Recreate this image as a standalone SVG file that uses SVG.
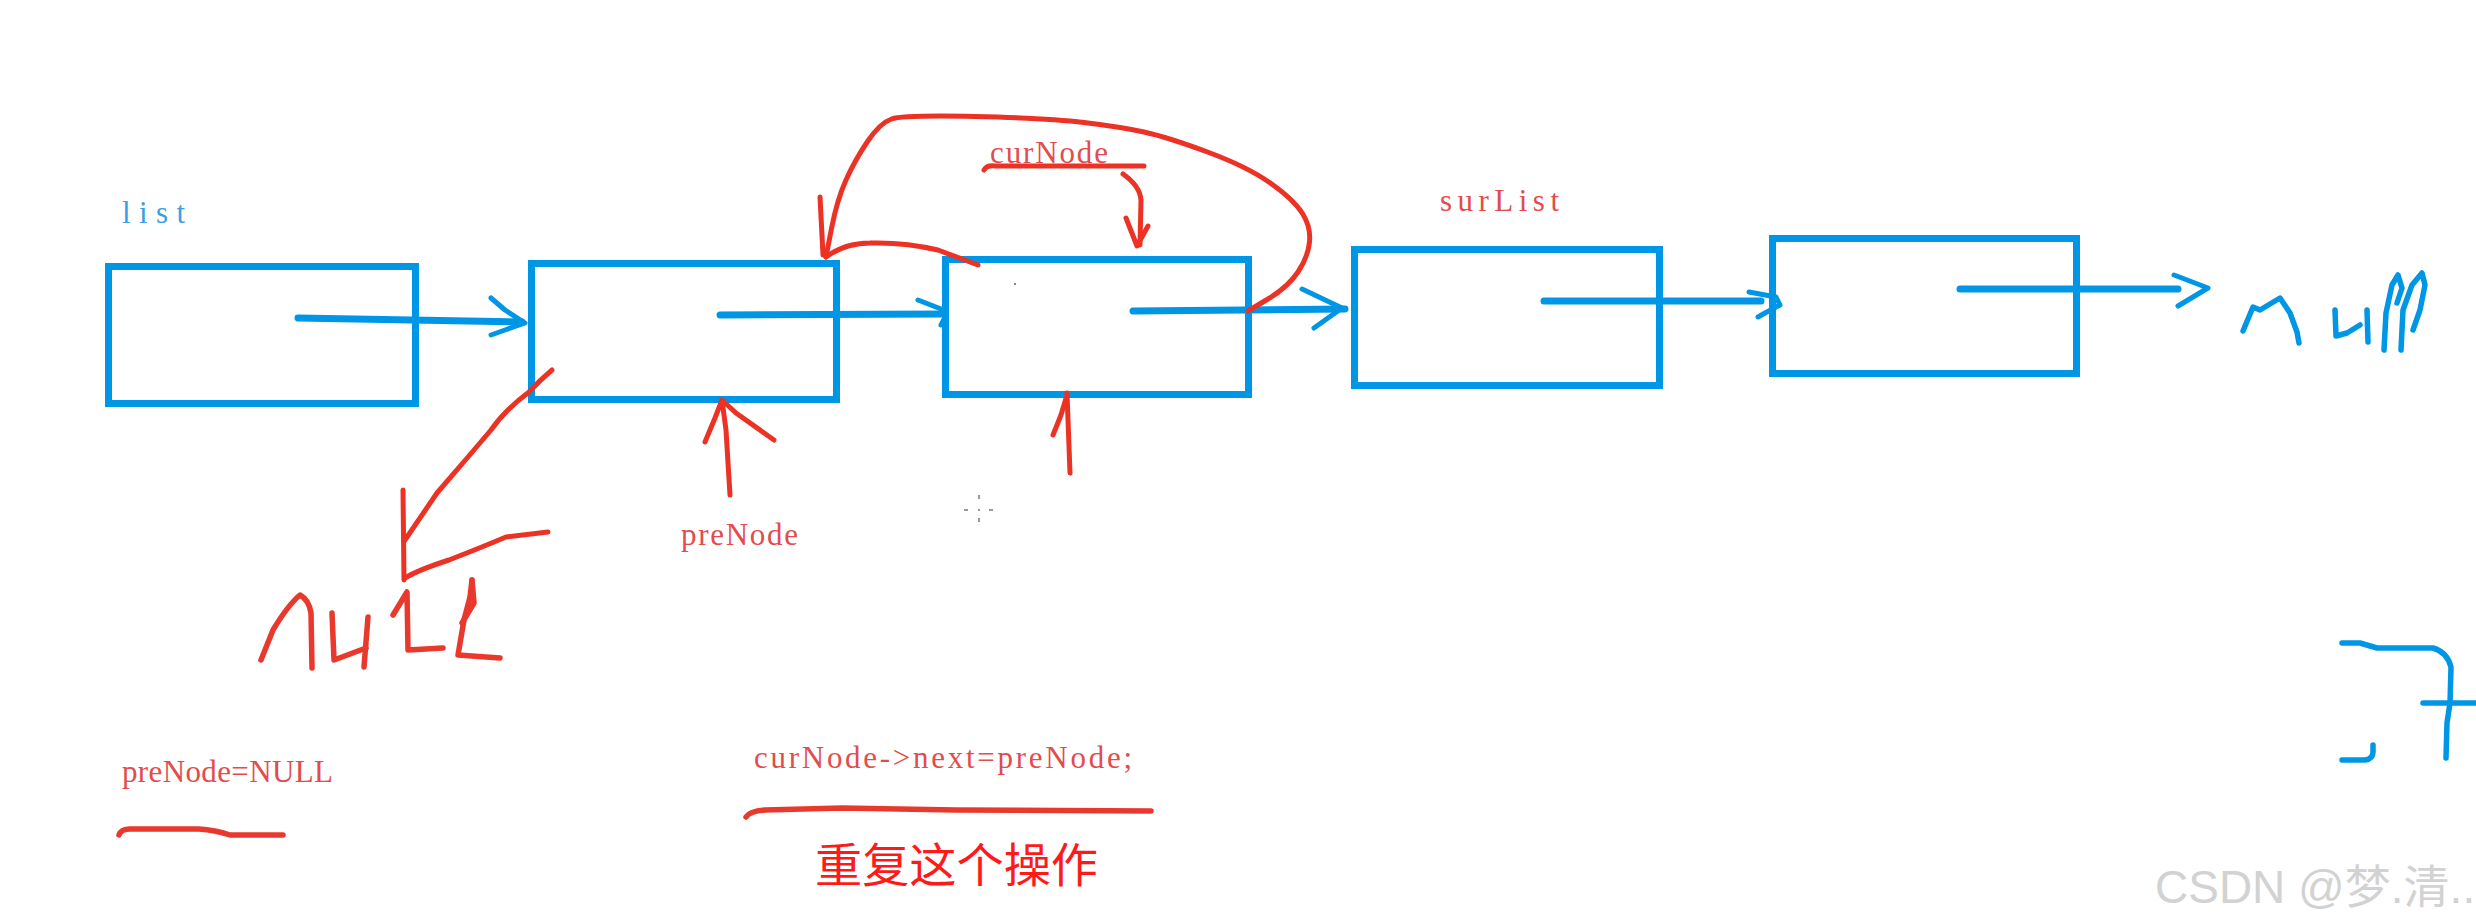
<svg xmlns="http://www.w3.org/2000/svg" width="2476" height="924" viewBox="0 0 2476 924">
<style>
.box{fill:none;stroke:#0096e6;stroke-width:7}
.link{fill:none;stroke:#0096e6;stroke-width:7;stroke-linecap:round}
.bhead{fill:none;stroke:#0096e6;stroke-width:5;stroke-linecap:round;stroke-linejoin:round}
.bink{fill:none;stroke:#0096e6;stroke-width:5.5;stroke-linecap:round;stroke-linejoin:round}
.rink{fill:none;stroke:#ec3224;stroke-width:5;stroke-linecap:round;stroke-linejoin:round}
.rthick{fill:none;stroke:#e8392c;stroke-width:5.5;stroke-linecap:round;stroke-linejoin:round}
.lbl{font-family:"Liberation Serif","DejaVu Serif",serif;font-size:31px;fill:#e24c4c}
.blbl{font-family:"Liberation Serif","DejaVu Serif",serif;font-size:31px;fill:#3a9fe0}
.cjk{font-family:"Noto Sans CJK SC","Noto Sans",sans-serif;font-size:47px;fill:#ff1a1a}
.wm{font-family:"Liberation Sans","Noto Sans CJK SC",sans-serif;font-size:46px;fill:#d2d2d2}
</style>
<rect width="2476" height="924" fill="#ffffff"/>

<g id="node1"><rect class="box" x="108.5" y="266.5" width="307" height="137"/></g>
<g id="node2"><rect class="box" x="531.5" y="263.5" width="305" height="136"/></g>
<g id="node3"><rect class="box" x="945.5" y="259.5" width="303" height="135"/><rect x="1014" y="283" width="2" height="2" fill="#888"/></g>
<g id="node4"><rect class="box" x="1354.5" y="249.5" width="305" height="136"/></g>
<g id="node5"><rect class="box" x="1772.5" y="238.5" width="304" height="135"/></g>

<g id="connectors">
  <path class="link" d="M298,318 L522,322"/>
  <path class="bhead" d="M491,298 L505,310 L525,323 L505,330 L491,335"/>
  <path class="link" d="M720,315 L943,314"/>
  <path class="bhead" d="M918,300 L941,309 L946,315 L941,325"/>
  <path class="link" d="M1133,311 L1345,309"/>
  <path class="bhead" d="M1302,289 L1342,308 L1314,328"/>
  <path class="link" d="M1544,301 L1761,301"/>
  <path class="bhead" d="M1749,292 L1776,297 L1780,305 L1765,313 L1758,317"/>
  <path class="link" d="M1960,289 L2178,289"/>
  <path class="bhead" d="M2174,275 L2208,288 L2178,306"/>
</g>

<g id="labels">
  <text class="blbl" x="122" y="223" textLength="63" lengthAdjust="spacing">list</text>
  <text class="lbl" x="990" y="163" textLength="118" lengthAdjust="spacing">curNode</text>
  <text class="lbl" x="1440" y="211" textLength="119" lengthAdjust="spacing">surList</text>
  <text class="lbl" x="681" y="545" textLength="117" lengthAdjust="spacing">preNode</text>
  <text class="lbl" x="122" y="782" textLength="211" lengthAdjust="spacing">preNode=NULL</text>
  <text class="lbl" x="754" y="768" textLength="378" lengthAdjust="spacing">curNode-&gt;next=preNode;</text>
  <text class="cjk" x="815" y="882" textLength="283" lengthAdjust="spacingAndGlyphs">重复这个操作</text>
</g>

<g id="red-annotations">
  <path class="rink" d="M1248,311 L1268,299 Q1288,287 1298,272 Q1308,257 1309.5,242 Q1311,227 1302.5,213.5 Q1294,200 1271,183.5 Q1248,167 1207.5,152 Q1167,137 1144,132 Q1121,127 1084,122.5 Q1047,118 975,116.5 Q903,115 891.5,119 Q880,123 867.5,141.5 Q855,160 846,180 Q837,200 831.5,228.5 L826,257"/>
  <path class="rink" d="M820,197 L823,255"/>
  <path class="rink" d="M826,257 Q845,243 870,243 Q905,242 938,250 L978,265"/>
  <path class="rink" d="M984,170 Q987,165 995,166 L1144,166"/>
  <path class="rink" d="M1123,174 Q1140,186 1141,200 L1140,245"/>
  <path class="rink" d="M1126,218 L1137,246 L1148,226"/>
  <path class="rink" d="M1070,473 L1067,393"/>
  <path class="rink" d="M1053,435 L1061,415 L1067,395"/>
  <path class="rink" d="M730,495 L726,430 L722,400"/>
  <path class="rink" d="M705,442 L715,418 L722,400 L736,413 L774,440"/>
  <path class="rink" d="M552,370 Q540,380 529,392 Q505,410 491,430 L468,457 Q450,478 437,493 L405,540"/>
  <path class="rink" d="M403,490 L404,580"/>
  <path class="rink" d="M405,578 Q418,570 449,560 Q480,548 506,537 L548,532"/>
  <path class="rthick" d="M261,660 L273,630 Q288,605 300,595 Q309,600 311,613 L312,668"/>
  <path class="rthick" d="M332,613 L334,660 L366,648"/>
  <path class="rthick" d="M368,617 L364,667"/>
  <path class="rthick" d="M393,615 L407,592 L408,650 L443,648"/>
  <path class="rthick" d="M472,580 L470,597 L464,620 L458,655 L500,658"/>
  <path class="rthick" d="M472,580 L474,603 L462,623"/>
  <path class="rthick" d="M119,835 Q121,829 130,829 L199,829 Q215,830 230,835 L283,835"/>
  <path class="rthick" d="M746,817 Q750,811 765,810 L842,808 L956,810 L1151,811"/>
</g>

<g id="blue-annotations">
  <path class="bink" d="M2243,331 L2253,307 L2260,310 L2280,298 L2290,313 L2297,332 L2299,343"/>
  <path class="bink" d="M2335,310 L2336,336 L2347,333 L2360,325"/>
  <path class="bink" d="M2367,310 L2368,342"/>
  <path class="bink" d="M2384,350 L2386,313 L2392,285 L2398,275 L2402,288 L2397,303"/>
  <path class="bink" d="M2401,350 L2403,310 L2412,285 L2422,273 L2425,285 L2420,310 L2413,330"/>
  <path class="bink" d="M2342,643 L2360,643 L2377,648 L2433,648 Q2447,652 2451,667 L2450,703 L2447,723 L2446,758"/>
  <path class="bink" d="M2423,703 L2476,703"/>
  <path class="bink" d="M2342,760 L2365,760 Q2373,759 2373,752 L2373,745"/>
</g>

<g id="cursor" fill="#999999">
  <rect x="978" y="495" width="2" height="4"/>
  <rect x="978" y="518" width="2" height="4"/>
  <rect x="964" y="509" width="4" height="2"/>
  <rect x="989" y="509" width="4" height="2"/>
  <rect x="978" y="509" width="2" height="2"/>
</g>

<text class="wm" x="2155" y="903">CSDN @梦.清..</text>
</svg>
